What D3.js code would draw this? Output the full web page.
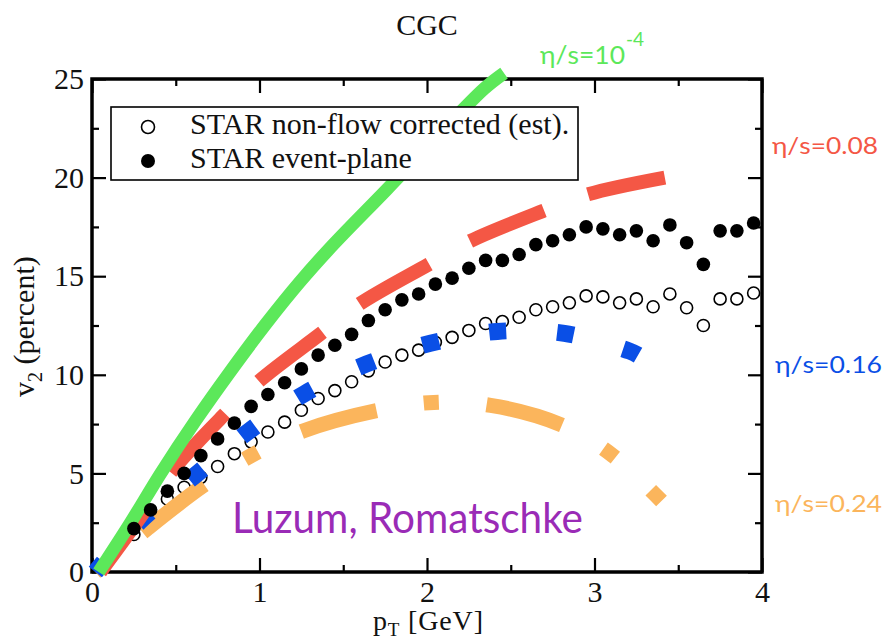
<!DOCTYPE html>
<html>
<head>
<meta charset="utf-8">
<script src="https://cdn.jsdelivr.net/npm/d3@7"></script>
<style>
  body { margin: 0; background: #fff; }
  svg { display: block; }
</style>
</head>
<body>
<svg id="chart" width="888" height="641"></svg>
<script>
// STAR v2 data points (transverse momentum in GeV, v2 in percent)
const pT = [0.25, 0.35, 0.45, 0.55, 0.65, 0.75, 0.85, 0.95, 1.05, 1.15,
            1.25, 1.35, 1.45, 1.55, 1.65, 1.75, 1.85, 1.95, 2.05, 2.15,
            2.25, 2.35, 2.45, 2.55, 2.65, 2.75, 2.85, 2.95, 3.05, 3.15,
            3.25, 3.35, 3.45, 3.55, 3.65, 3.75, 3.85, 3.95];
const v2EventPlane = [2.2, 3.15, 4.1, 5.0, 5.9, 6.75, 7.55, 8.4, 9.0, 9.6,
                      10.3, 11.0, 11.5, 12.05, 12.75, 13.3, 13.8, 14.1, 14.6, 14.9,
                      15.4, 15.8, 15.8, 16.1, 16.6, 16.8, 17.1, 17.5, 17.4, 17.1,
                      17.3, 16.8, 17.6, 16.7, 15.6, 17.3, 17.3, 17.7];
const v2NonFlow = [1.9, 2.9, 3.7, 4.3, 4.8, 5.35, 6.0, 6.6, 7.1, 7.6,
                   8.2, 8.8, 9.2, 9.65, 10.2, 10.65, 11.0, 11.25, 11.65, 11.9,
                   12.25, 12.6, 12.7, 12.92, 13.3, 13.45, 13.65, 14.0, 13.95, 13.65,
                   13.85, 13.45, 14.1, 13.4, 12.5, 13.85, 13.85, 14.15];

// Viscous hydro curves, one per eta/s
const ideal_pT  = [0.04, 0.23, 0.41, 0.62, 0.82, 1.04, 1.24, 1.44, 1.76, 2.04, 2.34, 2.46];
const ideal_v2  = [0.0, 2.5, 5.0, 7.7, 10.1, 12.6, 14.7, 16.6, 19.4, 21.9, 24.5, 25.3];
const eta008_pT = [0.05, 0.29, 0.47, 0.78, 1.0, 1.36, 1.59, 2.01, 2.25, 2.69, 2.96, 3.42];
const eta008_v2 = [0.0, 2.8, 5.05, 7.9, 9.7, 12.05, 13.55, 15.6, 16.75, 18.3, 19.15, 20.0];
const eta016_pT = [0.02, 0.29, 0.63, 0.93, 1.27, 1.64, 2.02, 2.42, 2.82, 3.21, 3.26];
const eta016_v2 = [0.0, 2.6, 5.0, 7.1, 9.05, 10.55, 11.6, 12.2, 12.1, 11.2, 11.0];
const eta024_pT = [0.02, 0.33, 0.66, 0.95, 1.26, 1.71, 2.04, 2.38, 2.82, 3.11, 3.4];
const eta024_v2 = [0.0, 2.2, 4.35, 5.9, 7.15, 8.2, 8.6, 8.45, 7.4, 5.9, 3.6];

const xTicks = [0, 1, 2, 3, 4];
const xMinorTicks = [0.5, 1.5, 2.5, 3.5];
const yTicks = [0, 5, 10, 15, 20, 25];
const yMinorTicks = [2.5, 7.5, 12.5, 17.5, 22.5];

const svg = d3.select('#chart');
const x = d3.scaleLinear([0, 4], [92, 762]);
const y = d3.scaleLinear([0, 25], [572, 79]);
const serif = '"Liberation Serif", "Times New Roman", serif';
const sans = 'Lato, "DejaVu Sans", sans-serif';

// ---- axes: inward ticks on all four sides ----
function drawAxis(gen, transform, values, size, labelled, padding) {
  const g = svg.append('g')
    .attr('transform', transform)
    .call(gen.tickValues(values).tickSizeInner(size).tickSizeOuter(0)
      .tickPadding(padding || 3)
      .tickFormat(labelled ? d3.format('d') : () => ''));
  g.select('.domain').remove();
  g.selectAll('line').attr('stroke', '#000').attr('stroke-width', 2.2);
  g.selectAll('text').attr('font-family', serif).attr('font-size', 30).attr('fill', '#111');
  return g;
}
drawAxis(d3.axisBottom(x), 'translate(0,572)', xTicks, -14, true, 9);
drawAxis(d3.axisBottom(x), 'translate(0,572)', xMinorTicks, -7, false);
drawAxis(d3.axisTop(x), 'translate(0,79)', xTicks, -14, false);
drawAxis(d3.axisTop(x), 'translate(0,79)', xMinorTicks, -7, false);
drawAxis(d3.axisLeft(y), 'translate(92,0)', yTicks, -14, true, 8);
drawAxis(d3.axisLeft(y), 'translate(92,0)', yMinorTicks, -7, false);
drawAxis(d3.axisRight(y), 'translate(762,0)', yTicks, -14, false);
drawAxis(d3.axisRight(y), 'translate(762,0)', yMinorTicks, -7, false);

svg.append('rect')
  .attr('x', x(0)).attr('y', y(25))
  .attr('width', x(4) - x(0)).attr('height', y(0) - y(25))
  .attr('fill', 'none').attr('stroke', '#000').attr('stroke-width', 3.5);

// ---- titles ----
svg.append('text').attr('x', (x(0) + x(4)) / 2).attr('y', 35)
  .attr('text-anchor', 'middle').attr('font-family', serif).attr('font-size', 30)
  .attr('fill', '#111').text('CGC');

const xl = svg.append('text').attr('x', 373).attr('y', 630)
  .attr('font-family', serif).attr('font-size', 28).attr('fill', '#111')
  .attr('textLength', 110).attr('lengthAdjust', 'spacing');
xl.append('tspan').text('p');
xl.append('tspan').attr('font-size', 19).attr('dy', 6).text('T');
xl.append('tspan').attr('dy', -6).text(' [GeV]');

const yl = svg.append('text').attr('transform', 'translate(34,397) rotate(-90)')
  .attr('font-family', serif).attr('font-size', 30).attr('fill', '#111');
yl.append('tspan').text('v');
yl.append('tspan').attr('font-size', 20).attr('dy', 8).text('2');
yl.append('tspan').attr('dy', -8).text(' (percent)');

// ---- data and curves ----
const layer = svg.append('g');
const line = d3.line().x(d => x(d[0])).y(d => y(d[1])).curve(d3.curveCatmullRom.alpha(0.5));

function drawCurve(px, pv, color, width, pattern, anchorIndex, anchorShift) {
  const pts = px.map((p, i) => [p, pv[i]]);
  const path = layer.append('path').attr('d', line(pts))
    .attr('fill', 'none').attr('stroke', color).attr('stroke-width', width)
    .attr('stroke-linecap', 'butt');
  if (pattern) {
    // align the dash pattern so that a dash sits on the anchor point
    const node = path.node();
    const total = node.getTotalLength();
    const ax = x(px[anchorIndex]), ay = y(pv[anchorIndex]);
    let best = 0, bd = Infinity;
    for (let s = 0; s <= total; s += 0.5) {
      const q = node.getPointAtLength(s);
      const d = (q.x - ax) ** 2 + (q.y - ay) ** 2;
      if (d < bd) { bd = d; best = s; }
    }
    const period = d3.sum(pattern);
    const off = (((anchorShift - best) % period) + period) % period;
    path.attr('stroke-dasharray', pattern.join(' ')).attr('stroke-dashoffset', off);
  }
}

// open circles
layer.append('g').selectAll('circle').data(pT).join('circle')
  .attr('cx', d => x(d)).attr('cy', (d, i) => y(v2NonFlow[i])).attr('r', 6)
  .attr('fill', '#fff').attr('stroke', '#000').attr('stroke-width', 1.6);

drawCurve(eta024_pT, eta024_v2, '#fbb55c', 15, [15, 48, 78, 48], 3, 7.5);
drawCurve(eta016_pT, eta016_v2, '#0a4fe6', 17, [17, 51], 4, 8.5);
drawCurve(eta008_pT, eta008_v2, '#f45745', 14, [80, 47], 2, 0);
drawCurve(ideal_pT, ideal_v2, '#5ce85a', 13, null);

// filled circles
layer.append('g').selectAll('circle').data(pT).join('circle')
  .attr('cx', d => x(d)).attr('cy', (d, i) => y(v2EventPlane[i])).attr('r', 6.8)
  .attr('fill', '#000');

// ---- legend ----
const lg = svg.append('g');
lg.append('rect').attr('x', 111).attr('y', 107).attr('width', 467).attr('height', 73)
  .attr('fill', '#fff').attr('stroke', '#000').attr('stroke-width', 1.6);
lg.append('circle').attr('cx', 148).attr('cy', 127).attr('r', 6.5)
  .attr('fill', '#fff').attr('stroke', '#000').attr('stroke-width', 1.6);
lg.append('circle').attr('cx', 148).attr('cy', 161).attr('r', 7).attr('fill', '#000');
lg.append('text').attr('x', 190).attr('y', 134).attr('font-family', serif)
  .attr('font-size', 30).attr('fill', '#111').text('STAR non-flow corrected (est).');
lg.append('text').attr('x', 190).attr('y', 168).attr('font-family', serif)
  .attr('font-size', 30).attr('fill', '#111').text('STAR event-plane');

// ---- curve labels ----
function label(tx, ty, txt, color, len, size) {
  svg.append('text').attr('x', tx).attr('y', ty).attr('font-family', sans)
    .attr('font-size', size).attr('fill', color)
    .attr('textLength', len).attr('lengthAdjust', 'spacingAndGlyphs').text(txt);
}
label(540, 64, 'η/s=10', '#5ce85a', 85, 25);
svg.append('text').attr('x', 626).attr('y', 46).attr('font-family', sans)
  .attr('font-size', 19).attr('fill', '#5ce85a').text('-4');
label(772, 154, 'η/s=0.08', '#f45745', 106, 23);
label(775, 373, 'η/s=0.16', '#0a4fe6', 107, 23);
label(775, 512, 'η/s=0.24', '#fbb55c', 107, 23);

svg.append('text').attr('x', 232).attr('y', 533).attr('font-family', sans)
  .attr('font-size', 42).attr('fill', '#9a2bb6')
  .attr('textLength', 351).attr('lengthAdjust', 'spacingAndGlyphs')
  .text('Luzum, Romatschke');
</script>
</body>
</html>
